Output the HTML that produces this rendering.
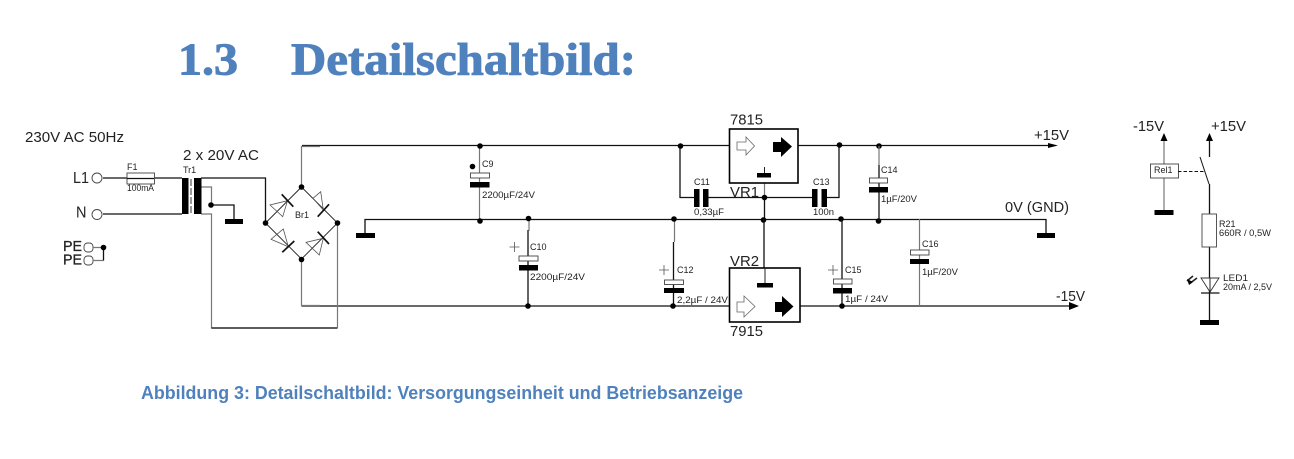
<!DOCTYPE html>
<html><head><meta charset="utf-8"><style>
html,body{margin:0;padding:0;background:#fff;width:1294px;height:459px;overflow:hidden}
svg{display:block}
text{font-family:"Liberation Sans",sans-serif;fill:#222}
.s{font-size:9px}.m{font-size:14.5px}
.w{stroke:#111;stroke-width:1.3;fill:none}
.g{stroke:#777;stroke-width:1.2;fill:none}
.t{stroke:#444;stroke-width:.9;fill:#fff}
.b{fill:#000;stroke:none}
.d{stroke:#555;stroke-width:.8;fill:none}
</style></head><body>
<svg width="1294" height="459" viewBox="0 0 1294 459" xmlns="http://www.w3.org/2000/svg">
<text x="178" y="74.5" textLength="60" lengthAdjust="spacingAndGlyphs" style="font-family:'Liberation Serif',serif;font-size:45px;font-weight:bold;fill:#4f81bd;stroke:#4f81bd;stroke-width:.9">1.3</text>
<text x="291" y="74.5" textLength="345" lengthAdjust="spacingAndGlyphs" style="font-family:'Liberation Serif',serif;font-size:45px;font-weight:bold;fill:#4f81bd;stroke:#4f81bd;stroke-width:.9">Detailschaltbild:</text>
<text x="141" y="399" textLength="602" lengthAdjust="spacingAndGlyphs" style="font-size:18px;font-weight:bold;fill:#4f81bd">Abbildung 3: Detailschaltbild: Versorgungseinheit und Betriebsanzeige</text>

<!-- Main wires -->
<path class="w" d="M302 145.5H1055"/>
<path class="w" d="M365 233V219.5H1046V233"/>
<path class="w" d="M301.5 306H1075"/>
<path class="g" d="M301.5 187V146.5H320"/>
<path class="g" d="M301.5 259V305.5H320"/>
<path class="g" d="M337.5 223V328H211.5V214H201"/>
<path class="w" d="M211.5 328H337"/>
<path class="w" d="M103 178H182M103 214H182M201 178H265.5V223"/>
<path class="g" d="M201 187H211.5V205"/>
<path class="w" d="M211.5 205H234V219"/>

<!-- Input -->
<circle cx="97" cy="178" r="5" class="t"/><circle cx="97" cy="214.5" r="5" class="t"/>
<rect x="127" y="173" width="27.5" height="11" class="t"/>
<path d="M127 178.5H154" stroke="#111" stroke-width="1.2"/>
<text x="25" y="142" class="m" textLength="99" lengthAdjust="spacingAndGlyphs">230V AC 50Hz</text>
<text x="183" y="160" class="m" textLength="76" lengthAdjust="spacingAndGlyphs">2 x 20V AC</text>
<text x="73" y="183" style="font-size:15.5px" textLength="16" lengthAdjust="spacingAndGlyphs">L1</text>
<text x="76" y="217.5" style="font-size:15.5px" textLength="10.5" lengthAdjust="spacingAndGlyphs">N</text>
<text x="127" y="170" class="s">F1</text>
<text x="127" y="191" class="s" textLength="27" lengthAdjust="spacingAndGlyphs">100mA</text>
<text x="183" y="173" class="s">Tr1</text>
<text x="63" y="251" class="m" textLength="19" lengthAdjust="spacingAndGlyphs" style="stroke:#222;stroke-width:.3">PE</text>
<text x="63" y="264.5" class="m" textLength="19" lengthAdjust="spacingAndGlyphs" style="stroke:#222;stroke-width:.3">PE</text>
<rect x="84" y="243" width="9" height="9" rx="3.5" class="t"/>
<rect x="84" y="256" width="9" height="9" rx="3.5" class="t"/>
<path class="g" d="M93 247.5H103.5M93 260.5H103.5"/>
<path class="w" d="M103.5 247.5V260.5"/>
<circle cx="103.5" cy="247.5" r="2.8"/>

<!-- Transformer -->
<rect x="182" y="178" width="6.5" height="36" class="b"/>
<rect x="194" y="178" width="7.5" height="36" class="b"/>
<path d="M191 179V214" stroke="#333" stroke-width="1" stroke-dasharray="7 2"/>
<circle cx="211" cy="205" r="2.8"/>
<rect x="225" y="219" width="18" height="5" class="b"/>

<!-- Bridge -->
<path d="M301.5 187L265.5 223L301.5 259L337.5 223Z" stroke="#222" stroke-width=".9" fill="none"/>
<path class="d" d="M287.5 200.7L270 205L282.7 216.7Z"/>
<path class="d" d="M323.3 210L313 198.3L320.7 191.7Z"/>
<path class="d" d="M288.3 246.7L271 239.3L283.3 229Z"/>
<path class="d" d="M323.3 238.3L306 242.3L319.3 255Z"/>
<g stroke="#111" stroke-width="1.7">
<path d="M281.7 194.3L293.3 206.7"/>
<path d="M317.7 216.7L329 204.3"/>
<path d="M294.3 241L282.3 252.3"/>
<path d="M317.7 231.7L329 244"/>
</g>
<circle cx="301.5" cy="187" r="2.8"/><circle cx="265.5" cy="223" r="2.8"/>
<circle cx="337.5" cy="223" r="2.8"/><circle cx="301.5" cy="259.5" r="2.8"/>
<text x="295" y="218" class="s">Br1</text>

<!-- Left ground -->
<rect x="356" y="233" width="19" height="5" class="b"/>

<!-- C9 -->
<path class="g" d="M479.5 146V221"/>
<rect x="470.5" y="173" width="19" height="5" class="t"/>
<rect x="470" y="182" width="19.5" height="5.5" class="b"/>
<circle cx="472.5" cy="166.5" r="2.8"/>
<circle cx="480" cy="146" r="2.8"/><circle cx="480" cy="221" r="2.8"/>
<text x="482" y="167" class="s">C9</text>
<text x="482" y="198" class="s" textLength="53" lengthAdjust="spacingAndGlyphs">2200µF/24V</text>

<!-- C10 -->
<path class="w" d="M528 230V306"/><path class="g" d="M529 219V231"/>
<rect x="519" y="256" width="19" height="5" class="t"/>
<rect x="519" y="265" width="19" height="5.5" class="b"/>
<path class="d" d="M514.5 242V252M509.5 247H519.5"/>
<circle cx="528.5" cy="218.5" r="2.8"/><circle cx="528" cy="306" r="2.8"/>
<text x="530" y="250" class="s">C10</text>
<text x="530" y="280" class="s" textLength="55" lengthAdjust="spacingAndGlyphs">2200µF/24V</text>

<!-- C12 -->
<path class="w" d="M673.5 242V306"/><path class="g" d="M674.5 219V242"/>
<rect x="664.5" y="280" width="19" height="4.5" class="t"/>
<rect x="664" y="288" width="20" height="5" class="b"/>
<path class="d" d="M664 265V275M659 270H669"/>
<circle cx="674" cy="219" r="2.8"/><circle cx="673" cy="306" r="2.8"/>
<text x="677" y="273" class="s">C12</text>
<text x="677" y="303" class="s" textLength="51" lengthAdjust="spacingAndGlyphs">2,2µF / 24V</text>

<!-- VR1 -->
<path class="g" d="M764.5 183V197"/>
<path class="w" d="M680 146V197.5H694M708 197.5H812M827 197.5H839V146M764.5 197V219"/>
<rect x="694" y="189" width="5.5" height="18" class="b"/>
<rect x="703" y="189" width="5.5" height="18" class="b"/>
<rect x="812" y="189" width="5.5" height="18" class="b"/>
<rect x="821.5" y="189" width="5.5" height="18" class="b"/>
<rect x="729.5" y="129" width="68.5" height="54" fill="#fff" stroke="#000" stroke-width="1.6"/>
<path d="M737 142H746V137L754.5 146L746 155V150H737Z" fill="#fff" stroke="#666" stroke-width=".8"/>
<path d="M773 142H781V137L792 146.5L781 157V152H773Z" class="b"/>
<rect x="757" y="173" width="14" height="4.500" class="b"/>
<path d="M764.5 167V173" stroke="#222" stroke-width="1"/>
<circle cx="680.5" cy="146" r="2.8"/><circle cx="839.5" cy="145" r="2.8"/>
<circle cx="879" cy="146" r="2.8"/><circle cx="764.5" cy="197.5" r="2.8"/>
<circle cx="763.5" cy="220" r="2.8"/><circle cx="841" cy="219" r="2.8"/><circle cx="878.5" cy="221" r="2.8"/>
<text x="730" y="124.5" class="m" textLength="33" lengthAdjust="spacingAndGlyphs">7815</text>
<text x="730" y="197" class="m" textLength="29" lengthAdjust="spacingAndGlyphs">VR1</text>
<text x="694" y="185" class="s">C11</text>
<text x="694" y="215" class="s" textLength="30" lengthAdjust="spacingAndGlyphs">0,33µF</text>
<text x="813" y="185" class="s">C13</text>
<text x="813" y="215" class="s" textLength="21" lengthAdjust="spacingAndGlyphs">100n</text>

<!-- C14 -->
<path class="g" d="M879 146V165"/><path class="w" d="M879 165V221"/>
<rect x="869.5" y="178" width="18" height="5" class="t"/>
<rect x="869" y="187" width="19" height="5.5" class="b"/>
<text x="881" y="173" class="s">C14</text>
<text x="881" y="202" class="s" textLength="36" lengthAdjust="spacingAndGlyphs">1µF/20V</text>

<!-- VR2 -->
<path class="w" d="M764 219V268"/>
<rect x="729.5" y="268" width="70.5" height="54" fill="#fff" stroke="#000" stroke-width="1.6"/>
<path d="M737 302H744V296L755 306.5L744 317V312H737Z" fill="#fff" stroke="#666" stroke-width=".8"/>
<path d="M775 302H782V296L793.5 306.5L782 317V312H775Z" class="b"/>
<rect x="757" y="283" width="16" height="4.5" class="b"/>
<path d="M765 268V283" stroke="#222" stroke-width="1"/>
<text x="730" y="266" class="m" textLength="29" lengthAdjust="spacingAndGlyphs">VR2</text>
<text x="730" y="336" class="m" textLength="33" lengthAdjust="spacingAndGlyphs">7915</text>

<!-- C15 -->
<path class="w" d="M842 219V306"/>
<rect x="833.5" y="279" width="18.5" height="5" class="t"/>
<rect x="833" y="288" width="19" height="5.5" class="b"/>
<path class="d" d="M833 265V275M828 270H838"/>
<circle cx="842" cy="306" r="2.8"/>
<text x="845" y="273" class="s">C15</text>
<text x="845" y="302" class="s" textLength="43" lengthAdjust="spacingAndGlyphs">1µF / 24V</text>

<!-- C16 -->
<path class="g" d="M919.5 219V306"/>
<rect x="910.5" y="250" width="18.5" height="5" class="t"/>
<rect x="910" y="259" width="19" height="5" class="b"/>
<text x="922" y="247" class="s">C16</text>
<text x="922" y="275" class="s" textLength="36" lengthAdjust="spacingAndGlyphs">1µF/20V</text>

<!-- Right labels -->
<path d="M1048 143L1058 145.5L1048 148Z" class="b"/>
<path d="M1069 302L1079 306L1069 310Z" class="b"/>
<rect x="1037" y="233" width="18" height="5" class="b"/>
<text x="1034" y="140" class="m" textLength="35" lengthAdjust="spacingAndGlyphs">+15V</text>
<text x="1005" y="212" class="m" textLength="64" lengthAdjust="spacingAndGlyphs">0V (GND)</text>
<text x="1056" y="301" class="m" textLength="29" lengthAdjust="spacingAndGlyphs">-15V</text>

<!-- Relay / LED -->
<path class="g" d="M1164 140V164M1164 178V211"/>
<path d="M1164 133L1160.5 141H1167.5Z" class="b"/>
<rect x="1150.5" y="164" width="28" height="14" class="t"/>
<text x="1154" y="173" class="s">Rel1</text>
<rect x="1154.5" y="210" width="19" height="5" class="b"/>
<path d="M1178 171.5H1204" stroke="#111" stroke-width="1" stroke-dasharray="3.5 2"/>
<path d="M1209.5 133L1206 141H1213Z" class="b"/>
<path class="w" d="M1209.5 140V157M1209.5 184V214M1209.5 247V321"/>
<path d="M1200 157L1209 184" stroke="#222" stroke-width="1.1"/>
<rect x="1202" y="214" width="14.5" height="33" class="t"/>
<path d="M1201 278H1219L1210 292Z" fill="#fff" stroke="#333" stroke-width=".9"/>
<path d="M1210 278V292" stroke="#222" stroke-width="1"/>
<path d="M1201 293H1219.5" stroke="#111" stroke-width="1.2"/>
<path d="M1197 278L1189 284M1193 276L1187 281" stroke="#222" stroke-width="1.6"/>
<path d="M1187 279L1189 285L1193 282Z" class="b"/>
<rect x="1200" y="320" width="19" height="5" class="b"/>
<text x="1133" y="131" class="m" textLength="31" lengthAdjust="spacingAndGlyphs">-15V</text>
<text x="1211" y="131" class="m" textLength="35" lengthAdjust="spacingAndGlyphs">+15V</text>
<text x="1219" y="227" class="s">R21</text>
<text x="1219" y="236" class="s" textLength="52" lengthAdjust="spacingAndGlyphs">660R / 0,5W</text>
<text x="1223" y="281" class="s" textLength="25" lengthAdjust="spacingAndGlyphs">LED1</text>
<text x="1223" y="290" class="s" textLength="49" lengthAdjust="spacingAndGlyphs">20mA / 2,5V</text>
</svg>
</body></html>
